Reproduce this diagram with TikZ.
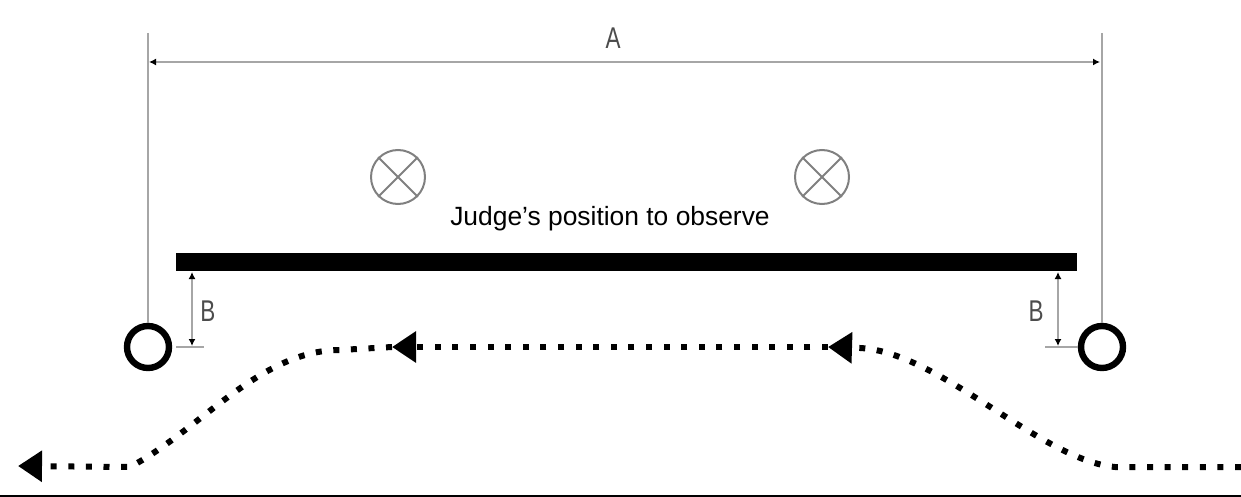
\documentclass[tikz,border=0pt]{standalone}
\usepackage{fontspec}
\setmainfont{Liberation Sans}
\usetikzlibrary{arrows.meta}
\begin{document}
\begin{tikzpicture}[x=0.5pt, y=-0.5pt]
\tikzset{poteau/.style={draw, circle, line width=3.2pt, minimum size=21pt, inner sep=0pt},
  juge/.style={draw=gray, circle, line width=1pt, minimum size=27pt, inner sep=0pt},
  cote/.style={draw=black!35, line width=1pt},
  fleche/.style={draw=black!35, line width=1.2pt, {Latex[length=3.5pt,width=3.5pt,color=black]}-{Latex[length=3.5pt,width=3.5pt,color=black]}},
  lettre/.style={text=black!70, font=\fontsize{15}{15}\selectfont, inner sep=0pt},
  trajet/.style={line width=3pt, dash pattern=on 3pt off 5.8pt, -{Triangle[length=12pt,width=15pt]}}}
\useasboundingbox (0,0) rectangle (1241,497);
\node[poteau] (P1) at (148,347) {};
\node[poteau] (P2) at (1102,347) {};
\node[juge] (J1) at (398,177) {};
\node[juge] (J2) at (822,177) {};
\draw[gray, line width=1pt] (J1.north west) -- (J1.south east) (J1.north east) -- (J1.south west);
\draw[gray, line width=1pt] (J2.north west) -- (J2.south east) (J2.north east) -- (J2.south west);
\node[font=\fontsize{13.2}{13.2}\selectfont] (T) at (610,219) {Judge’s position to observe};
\fill (176,253) rectangle (1077,271);
\coordinate (H1) at (148,33);
\coordinate (H2) at (1102,33);
\draw[cote] (H1) -- (P1.north);
\draw[cote] (H2) -- (P2.north);
\coordinate (A1) at (149,62);
\coordinate (A2) at (1100,62);
\draw[fleche] (A1) -- (A2);
\node[lettre] (LA) at (613,38) {\scalebox{0.75}[1]{A}};
\coordinate (B1) at (192,272);
\coordinate (B2) at (192,346);
\coordinate (B3) at (1058,272);
\coordinate (B4) at (1058,346);
\draw[fleche] (B1) -- (B2);
\draw[fleche] (B3) -- (B4);
\draw[cote] (176,347) -- (204,347);
\draw[cote] (1045,347) -- (P2.west);
\node[lettre] (LB1) at (208,311) {\scalebox{0.75}[1]{B}};
\node[lettre] (LB2) at (1036,311) {\scalebox{0.75}[1]{B}};
\coordinate (R0) at (1241,467);
\coordinate (R1) at (1115,467);
\coordinate (R2) at (860,348);
\coordinate (M1) at (828,347);
\coordinate (M2) at (392,347);
\coordinate (L1) at (340,350);
\coordinate (L2) at (130,467);
\coordinate (L3) at (18,466);
\draw[trajet] (R0) -- (R1) .. controls (1040,460) and (940,352) .. (R2) -- (M1);
\draw[trajet] (M1) -- (M2);
\draw[trajet] (M2) -- (L1) .. controls (260,350) and (200,430) .. (L2) -- (L3);
\draw[line width=0.8pt] (0,496) -- (1241,496);
\end{tikzpicture}
\end{document}
